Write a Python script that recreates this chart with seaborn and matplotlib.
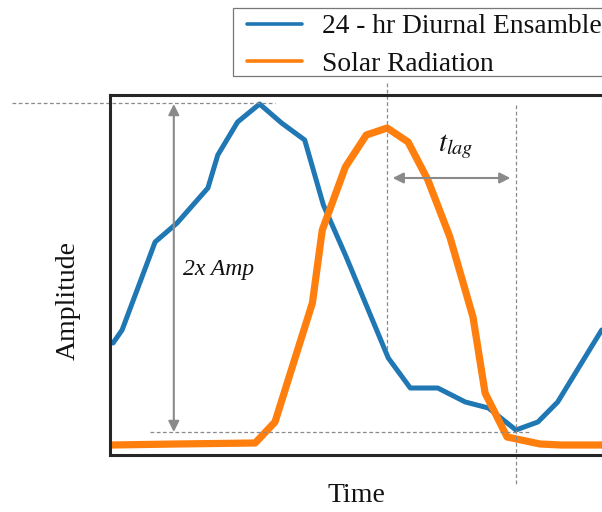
import matplotlib
matplotlib.use("Agg")
import matplotlib.pyplot as plt
from matplotlib.patches import Rectangle
import seaborn as sns
import pandas as pd

# Diurnal ensemble (blue) and solar radiation (orange), time in hours
ensemble_time = [0.14, 0.55, 2.05, 3.05, 4.45, 4.9, 5.8, 6.8, 7.8, 8.85, 9.7, 10.7,
                 12.65, 13.65, 14.9, 16.15, 17.2, 18.45, 19.45, 20.35, 22.35]
ensemble_amp = [112, 125, 213, 232, 267, 300, 333, 351, 332, 315, 250, 200,
                97, 67, 67, 53, 47, 25, 33, 53, 125]

solar_time = [0.1, 3.0, 6.6, 7.5, 9.2, 9.65, 10.7, 11.65, 12.6, 13.55, 14.45,
              15.45, 16.5, 17.05, 18.05, 19.55, 20.5, 22.35]
solar_amp = [10, 11, 12, 33, 152, 225, 288, 320, 327, 313, 275,
             218, 138, 62, 18, 11, 10, 10]

series_labels = ["24 - hr Diurnal Ensamble", "Solar Radiation"]

sns.set_theme(style="white")
plt.rcParams["font.family"] = ["Liberation Serif", "DejaVu Serif"]
plt.rcParams["mathtext.fontset"] = "stix"

BLUE = "#1f77b4"
ORANGE = "#ff7f0e"
GRAY = "#8a8a8a"
DASH = (0, (3, 2))
W, H = 602, 512

fig = plt.figure(figsize=(W / 100, H / 100), dpi=100)
ax = fig.add_axes([110 / W, (H - 455) / H, 493 / W, 360 / H])

df_ens = pd.DataFrame({"Time": ensemble_time, "Amplitude": ensemble_amp})
df_sol = pd.DataFrame({"Time": solar_time, "Amplitude": solar_amp})

sns.lineplot(data=df_ens, x="Time", y="Amplitude", ax=ax, color=BLUE,
             linewidth=3.6, label=series_labels[0])
sns.lineplot(data=df_sol, x="Time", y="Amplitude", ax=ax, color=ORANGE,
             linewidth=5.2, label=series_labels[1])

ax.set_xlim(0, 22.41)
ax.set_ylim(0, 360)
ax.set_xticks([])
ax.set_yticks([])
for s in ax.spines.values():
    s.set_color("#262626")
    s.set_linewidth(2.2)

# Reference points: ensemble max/min, solar peak
amp_max = max(ensemble_amp)
amp_min = min(ensemble_amp)
t_max = ensemble_time[ensemble_amp.index(amp_max)]
t_min = ensemble_time[ensemble_amp.index(amp_min)]
t_sun = solar_time[solar_amp.index(max(solar_amp))]

ax.plot([-4.45, t_max + 0.7], [amp_max + 1, amp_max + 1], ls=DASH, color=GRAY,
        lw=0.9, clip_on=False)
ax.plot([1.82, t_min + 0.65], [amp_min - 2, amp_min - 2], ls=DASH, color=GRAY,
        lw=0.9, clip_on=False)
ax.plot([t_sun, t_sun], [372, 105], ls=DASH, color=GRAY, lw=0.9, clip_on=False)
ax.plot([t_min, t_min], [350, -30], ls=DASH, color=GRAY, lw=0.9, clip_on=False)

# Amplitude arrow
ax.annotate("", xy=(2.9, amp_max), xytext=(2.9, amp_min - 2),
            arrowprops=dict(arrowstyle="<|-|>", color=GRAY, lw=1.5,
                            mutation_scale=16, shrinkA=0, shrinkB=0))
ax.text(3.3, 185, "2x Amp", style="italic", fontsize=17, va="center",
        ha="left", color="#111111")

# Lag arrow
ax.annotate("", xy=(t_sun + 0.25, 277), xytext=(t_min - 0.25, 277),
            arrowprops=dict(arrowstyle="<|-|>", color=GRAY, lw=1.5,
                            mutation_scale=16, shrinkA=0, shrinkB=0))
ax.text((t_sun + t_min) / 2 + 0.2, 308, r"$t_{lag}$", fontsize=21,
        ha="center", va="center", color="#111111")

ax.set_xlabel("Time", fontsize=20, labelpad=20, color="#111111")
ax.set_ylabel("Amplitude", fontsize=20, color="#111111")
ax.yaxis.set_label_coords(-0.059, 0.43)

# Legend entries above the axes, with a plain rectangular frame
handles, labels = ax.get_legend_handles_labels()
ax.get_legend().remove()
leg = fig.legend(handles, labels, loc="upper left",
                 bbox_to_anchor=(247 / W, 1 - 14 / H),
                 bbox_transform=fig.transFigure, fontsize=19.8,
                 frameon=False, borderpad=0, labelspacing=0.45,
                 handlelength=2.0, handletextpad=0.72, borderaxespad=0)
for line in leg.get_lines():
    line.set_linewidth(2.6)
for t in leg.get_texts():
    t.set_color("#111111")
fig.patches.append(Rectangle((233 / W, 1 - 76 / H), 400 / W, 68 / H,
                             transform=fig.transFigure, fill=False,
                             edgecolor="#777777", linewidth=0.9))

fig.savefig("out.png", dpi=100)
